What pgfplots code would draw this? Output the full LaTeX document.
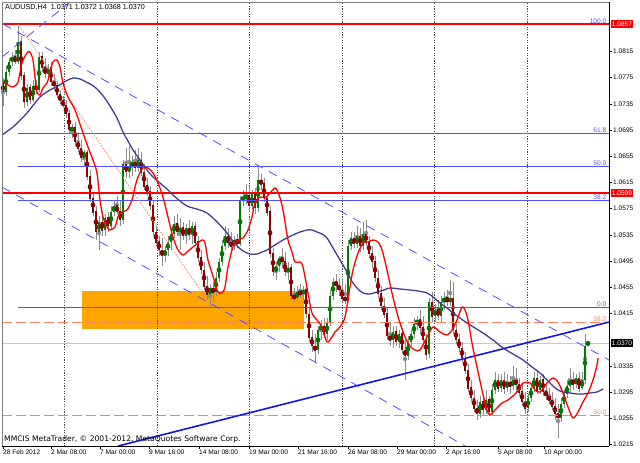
\documentclass[border=0pt]{standalone}
\usepackage{pgfplots}
\pgfplotsset{compat=1.18}
\usepackage{pgfplotstable}
\usepackage{fontspec}
\setmainfont{Liberation Sans}
\newfontfamily\dejavu{DejaVu Sans}
\newcommand{\sm}{\fontsize{6.6}{7.5}\selectfont}
\definecolor{fibblue}{RGB}{80,80,255}
\definecolor{chanblue}{RGB}{80,80,255}
\definecolor{trendblue}{RGB}{20,20,235}
\definecolor{salm}{RGB}{255,130,90}
\definecolor{maslow}{RGB}{70,60,140}
\definecolor{upc}{RGB}{0,125,0}
\definecolor{dnc}{RGB}{150,0,0}
\definecolor{wick}{RGB}{140,140,140}
\definecolor{orng}{RGB}{255,165,0}
\definecolor{sepgray}{RGB}{70,70,70}
\definecolor{curgray}{RGB}{200,200,200}

% candles: x position (px), open/high/low/close read as picture rows (px from top)
\pgfplotstableread{
x o h l c
3 84 78 106 92
6 92 66 96 72
9 72 58 76 62
12 62 52 66 57
15 57 50 64 62
18 62 24 64 42
21 42 36 80 76
24 76 72 108 102
27 102 84 106 88
30 88 84 104 100
33 100 80 102 86
36 86 80 94 90
39 90 52 92 57
42 57 52 72 68
45 68 58 78 74
48 74 64 80 68
51 68 62 86 82
54 82 74 90 86
57 86 82 98 95
60 95 90 104 101
63 101 96 108 106
66 106 100 118 114
69 114 110 134 130
72 130 124 138 128
75 128 122 146 142
78 142 132 152 148
81 148 140 162 158
84 158 150 166 152
87 152 150 180 176
90 176 170 202 198
93 198 194 216 212
96 212 206 240 232
99 232 216 250 222
102 222 212 236 230
105 230 214 236 218
108 218 212 232 226
111 226 206 230 212
114 212 200 216 206
117 206 196 214 212
120 212 200 226 220
123 220 160 224 164
126 164 148 178 172
129 172 146 178 166
132 166 156 176 162
135 162 150 172 168
138 168 148 172 160
141 160 152 176 172
144 172 164 190 186
147 186 178 196 192
150 192 186 210 206
153 206 200 236 232
156 232 226 246 242
159 242 236 256 250
162 250 238 266 256
165 256 246 262 250
168 250 236 256 242
171 242 228 250 234
174 234 216 238 224
177 224 214 236 232
180 232 218 250 228
183 228 222 240 236
186 236 224 244 228
189 228 220 240 234
192 234 222 244 226
195 226 222 246 242
198 242 236 262 258
201 258 250 274 270
204 270 262 290 286
207 286 276 300 294
210 294 284 308 288
213 288 282 302 292
216 292 272 296 278
219 278 258 282 262
222 262 240 266 246
225 246 226 250 236
228 236 228 248 242
231 242 232 250 246
234 246 236 250 240
237 240 234 248 244
240 244 196 246 200
243 200 190 206 198
246 198 184 204 196
249 196 186 212 206
252 206 190 210 194
255 194 188 214 208
258 208 166 212 180
261 180 174 190 184
264 184 178 202 198
267 198 194 216 212
270 212 206 258 254
273 254 248 276 272
276 272 262 280 266
279 266 256 272 258
282 258 248 268 262
285 262 252 276 272
288 272 262 280 268
291 268 264 300 296
294 296 288 302 298
297 298 286 302 292
300 292 284 298 294
303 294 286 300 290
306 290 284 318 314
309 314 308 342 338
312 338 330 352 346
315 346 334 362 350
318 350 326 354 330
321 330 320 340 326
324 326 318 338 334
327 334 318 340 322
330 322 290 326 296
333 296 278 300 282
336 282 274 292 286
339 286 278 296 290
342 290 280 302 298
345 298 284 304 300
348 300 240 302 246
351 246 232 250 238
354 238 232 248 244
357 244 226 248 236
360 236 228 252 246
363 246 222 250 234
366 234 220 246 242
369 242 236 258 254
372 254 246 268 262
375 262 256 282 278
378 278 270 298 294
381 294 286 310 306
384 306 298 318 314
387 314 308 340 336
390 336 322 346 340
393 340 326 348 332
396 332 326 346 342
399 342 330 348 334
402 334 328 354 350
405 350 338 380 356
408 356 336 360 342
411 342 330 346 334
414 334 318 338 324
417 324 316 330 320
420 320 310 334 328
423 328 316 344 340
426 340 334 360 354
429 354 298 358 302
432 302 292 322 316
435 316 304 322 310
438 310 300 320 316
441 316 296 322 302
444 302 292 310 298
447 298 290 306 302
450 302 280 306 298
453 298 282 334 330
456 330 324 344 340
459 340 334 352 348
462 348 342 362 358
465 358 352 374 370
468 370 364 392 388
471 388 380 402 398
474 398 390 412 408
477 408 400 420 414
480 414 396 418 402
483 402 396 416 410
486 410 390 414 400
489 400 396 416 412
492 412 384 416 390
495 390 372 394 380
498 380 374 392 388
501 388 374 392 380
504 380 372 394 388
507 388 374 392 382
510 382 376 394 386
513 386 366 390 380
516 380 368 392 384
519 384 378 396 392
522 392 384 406 402
525 402 392 414 408
528 408 394 412 398
531 398 384 402 388
534 388 372 392 378
537 378 370 394 390
540 390 376 394 380
543 380 374 396 392
546 392 384 400 396
549 396 388 404 400
552 400 392 410 406
555 406 398 420 414
558 414 404 438 418
561 418 398 422 404
564 404 390 408 394
567 394 380 398 386
570 386 368 392 380
573 380 372 390 384
576 384 374 388 378
579 378 372 392 388
582 388 372 390 380
585 380 334 384 346
588 344 341 345 343
}\candles

\pgfplotstableread{
x y
2 135
13 127
27 113
40 97
50 90
58 86
66 81
73 78
80 79
86 82
92 85
97 89
104 97
110 106
117 118
123 132
128 141
133 150
140 160
147 170
153 177
160 183
167 189
173 195
180 201
187 206
193 208
200 210
207 213
213 218
220 225
227 233
232 240
237 246
243 251
250 254
257 254
262 252
267 250
275 245
283 240
293 235
300 232
307 230
312 230
317 232
322 234
327 238
333 248
340 260
347 272
353 283
358 289
363 293
370 294
377 292
384 290
390 288
400 289
410 290
418 291
427 293
433 297
440 303
447 308
453 313
460 318
467 323
475 328
483 333
493 340
503 348
513 354
523 360
532 367
540 373
547 380
553 386
558 390
563 392
570 393
577 394
583 394
590 393
597 392
603 389
}\maslow

\pgfplotstableread{
x y
3 82
8 85
13 87
18 82
22 63
27 53
30 52
33 60
35 77
37 92
40 95
43 88
47 83
50 73
53 62
57 60
60 67
63 83
68 97
75 110
82 130
88 147
93 160
97 173
100 200
103 217
107 227
110 230
115 227
118 217
122 212
127 210
132 200
135 187
138 177
143 168
148 168
153 173
158 183
163 197
168 217
173 237
178 250
183 255
187 252
193 247
202 240
205 243
208 260
212 273
215 283
218 292
222 293
225 287
228 267
233 247
238 240
243 238
248 230
252 217
255 203
260 197
265 198
270 193
275 188
278 192
282 205
285 222
288 240
292 252
295 262
300 262
303 267
308 293
312 313
317 320
322 327
327 342
332 337
335 332
340 327
345 317
350 287
353 270
358 253
363 243
368 242
373 240
378 242
382 250
387 270
392 293
397 313
400 323
405 337
410 346
415 350
420 350
427 337
433 327
440 332
447 335
452 330
457 320
462 307
465 310
468 320
472 343
477 367
482 390
487 410
490 415
495 410
502 403
508 400
517 392
523 383
530 383
535 390
540 392
547 383
553 378
558 382
563 393
568 407
573 418
578 412
583 402
588 393
593 380
597 365
598 358
}\mafast

\begin{document}
\begin{tikzpicture}
\begin{axis}[
  at={(2pt,17pt)}, anchor=south west,
  scale only axis, width=607pt, height=444pt,
  xmin=2, xmax=609, ymin=1.021273, ymax=1.089059,
  axis x line*=bottom, axis y line*=right,
  clip mode=individual,
  axis line style={black, line width=0.6pt},
  tick align=outside, major tick length=3pt,
  tick style={black, line width=0.5pt},
  xtick={3,51,100,149,199,249,298,348,397,446,498,544},
  xticklabels={28 Feb 2012, 2 Mar 08:00, 7 Mar 00:00, 9 Mar 16:00, 14 Mar 08:00, 19 Mar 00:00, 21 Mar 16:00, 26 Mar 08:00, 29 Mar 00:00, 2 Apr 16:00, 5 Apr 08:00, 10 Apr 00:00},
  xticklabel style={anchor=north west, inner sep=1pt, xshift=-1pt, font=\sm},
  ytick={1.0215,1.0255,1.0295,1.0335,1.0415,1.0455,1.0495,1.0535,1.0575,1.0615,1.0655,1.0695,1.0735,1.0775,1.0815},
  scaled y ticks=false,
  yticklabel style={anchor=west, inner sep=1pt, font=\sm,
    /pgf/number format/.cd, fixed, fixed zerofill, precision=4, assume math mode=true},
]
% orange zone
\addplot[fill=orng, draw=none, forget plot] coordinates {(82,1.04498) (304,1.04498) (304,1.03918) (82,1.03918)} -- cycle;
% period separators
\foreach \s in {64,157,249,342,434,527} {
  \edef\tmp{\noexpand\addplot[sepgray, line width=0.6pt, dash pattern=on 1.2pt off 1.4pt, forget plot] coordinates {(\s,1.0212) (\s,1.0891)};}
  \tmp
}
% current price line
\addplot[curgray, line width=0.6pt] coordinates {(2,1.0370) (609,1.0370)};
% candle wicks
\addplot[wick, only marks, mark=none, error bars/.cd, y dir=both, y explicit, error mark=none,
  error bar style={line width=0.8pt, draw=wick}]
  table[x=x, y expr={1.0857-((\thisrow{h}+\thisrow{l})/2-24)/6550}, y error expr={(\thisrow{l}-\thisrow{h})/13100}] {\candles};
% bullish bodies (open below close): dark outline, then fill
\addplot[black, only marks, mark=none, unbounded coords=discard,
  restrict expr to domain={\thisrow{o}-\thisrow{c}}{0.5:1000},
  error bars/.cd, y dir=both, y explicit, error mark=none,
  error bar style={line width=2.9pt, draw=black!85}]
  table[x=x, y expr={1.0857-((\thisrow{o}+\thisrow{c})/2-24)/6550}, y error expr={(\thisrow{o}-\thisrow{c}+0.8)/13100}] {\candles};
\addplot[upc, only marks, mark=none, unbounded coords=discard,
  restrict expr to domain={\thisrow{o}-\thisrow{c}}{0.5:1000},
  error bars/.cd, y dir=both, y explicit, error mark=none,
  error bar style={line width=1.7pt, draw=upc}]
  table[x=x, y expr={1.0857-((\thisrow{o}+\thisrow{c})/2-24)/6550}, y error expr={(\thisrow{o}-\thisrow{c}-0.6)/13100}] {\candles};
% bearish bodies
\addplot[black, only marks, mark=none, unbounded coords=discard,
  restrict expr to domain={\thisrow{c}-\thisrow{o}}{-0.5:1000},
  error bars/.cd, y dir=both, y explicit, error mark=none,
  error bar style={line width=2.9pt, draw=black!85}]
  table[x=x, y expr={1.0857-((\thisrow{o}+\thisrow{c})/2-24)/6550}, y error expr={(\thisrow{c}-\thisrow{o}+1.0)/13100}] {\candles};
\addplot[dnc, only marks, mark=none, unbounded coords=discard,
  restrict expr to domain={\thisrow{c}-\thisrow{o}}{1.5:1000},
  error bars/.cd, y dir=both, y explicit, error mark=none,
  error bar style={line width=1.7pt, draw=dnc}]
  table[x=x, y expr={1.0857-((\thisrow{o}+\thisrow{c})/2-24)/6550}, y error expr={(\thisrow{c}-\thisrow{o}-0.6)/13100}] {\candles};
% red horizontal levels
\addplot[red, line width=1.5pt] coordinates {(2,1.0857) (609,1.0857)};
\addplot[red, line width=1.5pt] coordinates {(2,1.0599) (609,1.0599)};
% fibonacci (blue)
\addplot[fibblue, line width=0.9pt] coordinates {(18,1.06906) (609,1.06906)};
\addplot[fibblue, line width=0.9pt] coordinates {(18,1.06397) (609,1.06397)};
\addplot[fibblue, line width=0.9pt] coordinates {(18,1.05883) (609,1.05883)};
\addplot[fibblue, line width=0.9pt] coordinates {(18,1.04239) (609,1.04239)};
% fibonacci (salmon, dashed)
\addplot[salm, line width=0.9pt, dash pattern=on 10pt off 4pt] coordinates {(2,1.04010) (609,1.04010)};
\addplot[salm, line width=0.9pt, dash pattern=on 10pt off 4pt] coordinates {(2,1.02590) (609,1.02590)};
% fib diagonal (dotted)
\addplot[salm, line width=0.8pt, dash pattern=on 1.5pt off 1.5pt] coordinates {(18,1.0857) (212,1.04249)};
% channel (dashed blue)
\addplot[chanblue, line width=0.8pt, dash pattern=on 9pt off 7pt] coordinates {(3,1.0857) (609,1.0344)};
\addplot[chanblue, line width=0.8pt, dash pattern=on 9pt off 7pt] coordinates {(2,1.06081) (467,1.02112)};
\addplot[chanblue, line width=0.8pt, dash pattern=on 9pt off 7pt] coordinates {(2,1.08066) (70,1.08906)};
% thick trend line
\addplot[trendblue, line width=1.6pt] coordinates {(118,1.02127) (609,1.04020)};
% moving averages
\addplot[maslow, line width=1.3pt, smooth] table[x=x, y expr={1.0857-(\thisrow{y}-24)/6550}] {\maslow};
\addplot[red, line width=1.3pt, smooth] table[x=x, y expr={1.0857-(\thisrow{y}-24)/6550}] {\mafast};
% borders
\draw[gray, line width=0.6pt] (rel axis cs:0,0) -- (rel axis cs:0,1) -- (rel axis cs:1,1);
% fib labels
\node[anchor=south east, inner sep=0.5pt, text=fibblue, font=\sm] at (axis cs:607,1.0857) {100.0};
\node[anchor=south east, inner sep=0.5pt, text=fibblue, font=\sm] at (axis cs:607,1.06906) {61.8};
\node[anchor=south east, inner sep=0.5pt, text=fibblue, font=\sm] at (axis cs:607,1.06397) {50.0};
\node[anchor=south east, inner sep=0.5pt, text=fibblue, font=\sm] at (axis cs:607,1.05883) {38.2};
\node[anchor=south east, inner sep=0.5pt, text=fibblue, font=\sm] at (axis cs:607,1.04239) {0.0};
\node[anchor=south east, inner sep=0.5pt, text=salm, font=\sm] at (axis cs:607,1.04010) {38.2};
\node[anchor=south east, inner sep=0.5pt, text=salm, font=\sm] at (axis cs:607,1.02590) {50.0};
% price boxes
\node[anchor=west, fill=red, text=white, inner sep=1.2pt, font=\sm] at (axis cs:610.5,1.0857) {1.0857};
\node[anchor=west, fill=red, text=white, inner sep=1.2pt, font=\sm] at (axis cs:610.5,1.0599) {1.0599};
\node[anchor=west, fill=black, text=white, inner sep=1.2pt, font=\sm] at (axis cs:610.5,1.0370) {1.0370};
% texts
\node[anchor=north west, inner sep=0pt, font=\fontsize{7.2}{8}\selectfont] at ([xshift=3pt,yshift=-2.5pt]rel axis cs:0,1) {AUDUSD,H4\ \ 1.0371 1.0372 1.0368 1.0370};
\node[anchor=south west, inner sep=0pt, font=\dejavu\fontsize{7.6}{8}\selectfont] at ([xshift=2pt,yshift=3pt]rel axis cs:0,0) {MMCIS MetaTrader, © 2001-2012, MetaQuotes Software Corp.};
\end{axis}
\pgfresetboundingbox
\path[use as bounding box] (0,0) rectangle (640pt,463pt);
\end{tikzpicture}
\end{document}
